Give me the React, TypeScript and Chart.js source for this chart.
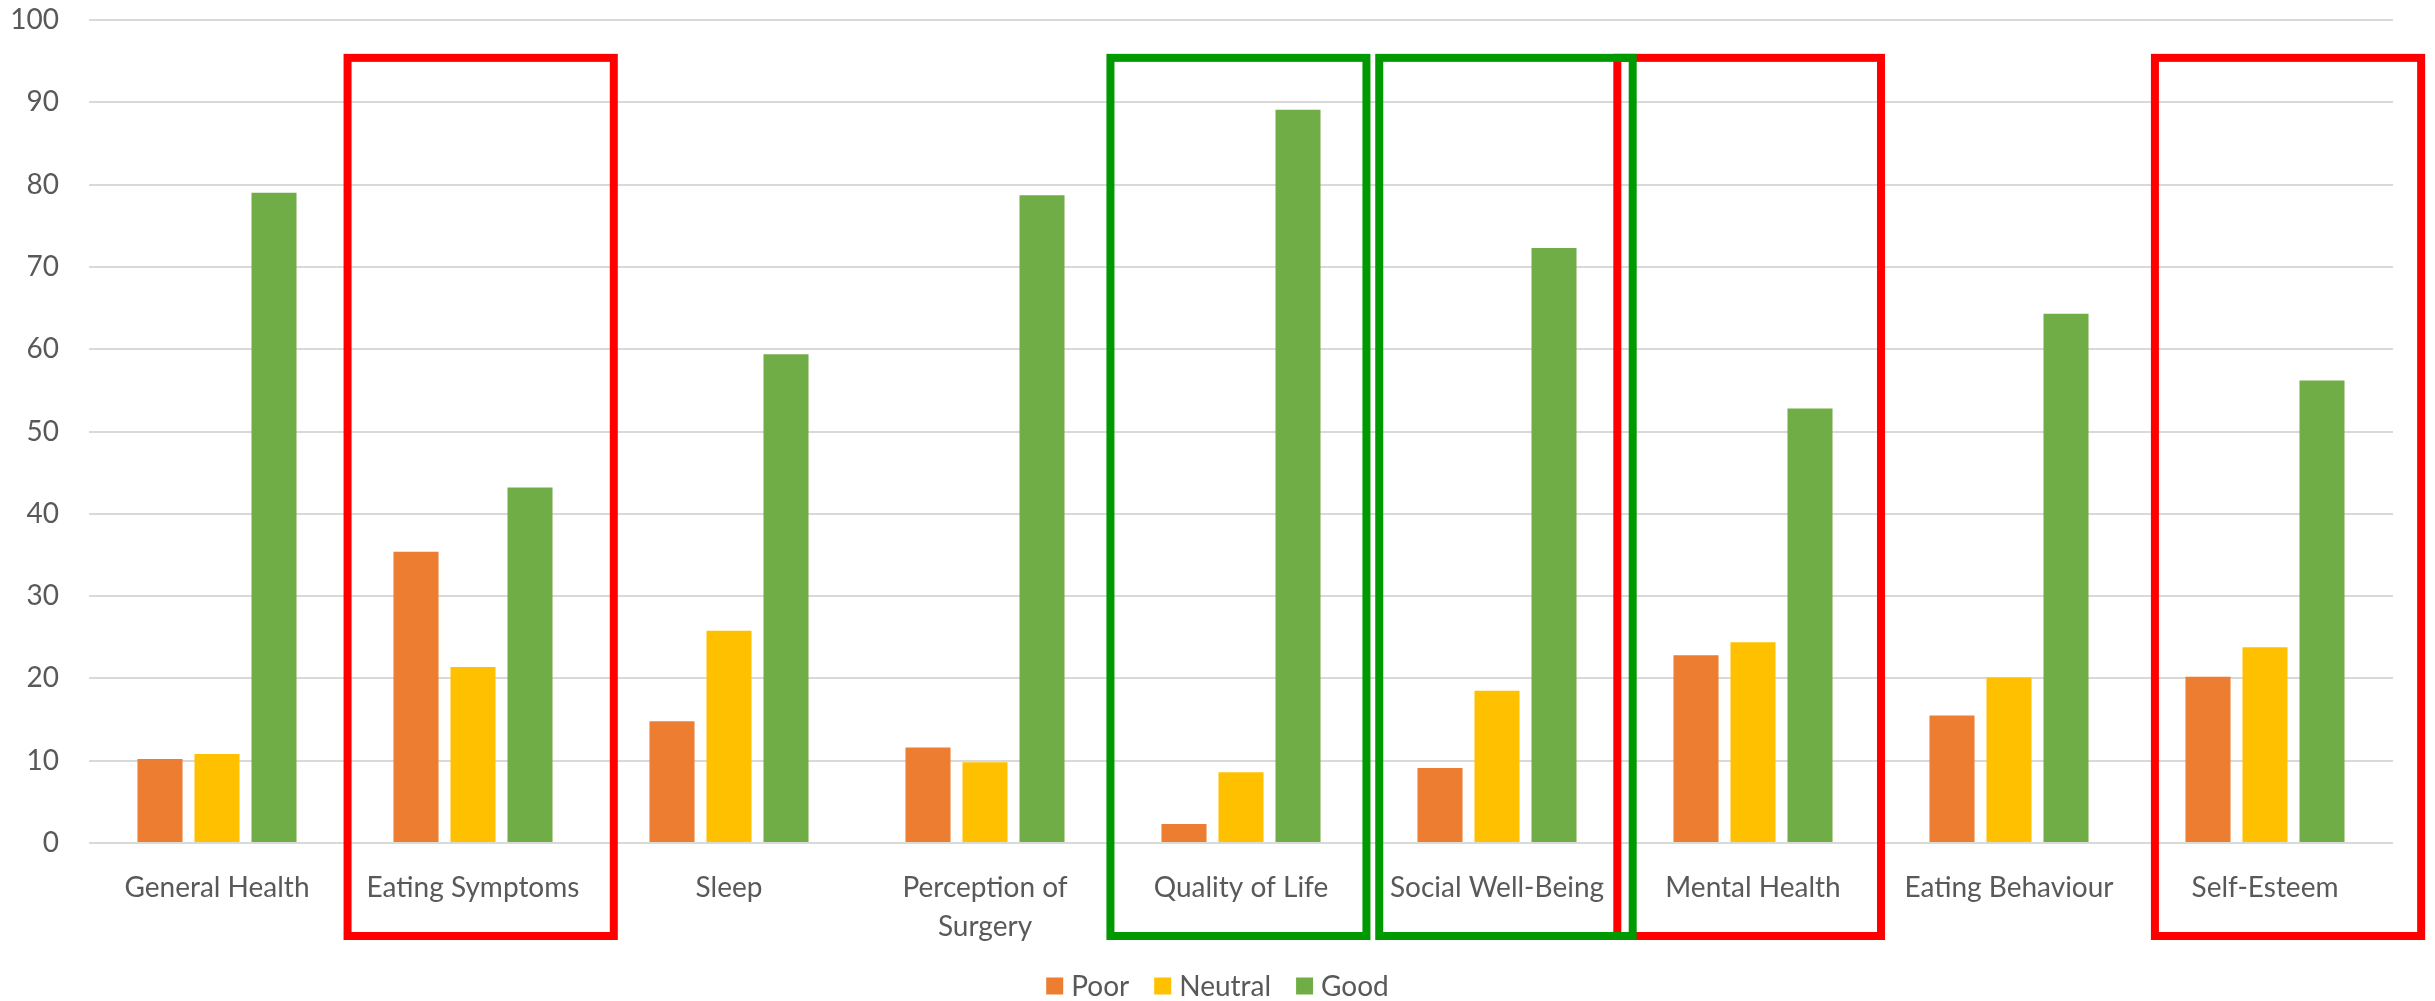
import React, { useEffect, useRef } from "react";
import { Chart, registerables } from "chart.js";

Chart.register(...registerables);

// ---------- data ----------
const categories: (string | string[])[] = [
  "General Health",
  "Eating Symptoms",
  "Sleep",
  ["Perception of", "Surgery"],
  "Quality of Life",
  "Social Well-Being",
  "Mental Health",
  "Eating Behaviour",
  "Self-Esteem",
];
const seriesNames = ["Poor", "Neutral", "Good"];
const poorValues = [10.2, 35.4, 14.8, 11.6, 2.3, 9.1, 22.8, 15.5, 20.2];
const neutralValues = [10.8, 21.4, 25.8, 9.8, 8.6, 18.5, 24.4, 20.1, 23.8];
const goodValues = [79.0, 43.2, 59.4, 78.7, 89.1, 72.3, 52.8, 64.3, 56.2];
const yMin = 0;
const yMax = 100;
const yStep = 10;

// highlighted categories (index into categories)
const redBoxedIdx = [1, 6, 8];
const greenBoxedIdx = [4, 5];

// ---------- styles ----------
const COLORS = ["#ED7D31", "#FFC000", "#70AD47"];
const TEXT = "#595959";
const GRID = "#D9D9D9";
const FONT = "Lato, 'Liberation Sans', sans-serif";
const FS = 28;
// box edge offsets (fraction of category width, from category centre)
const boxEdges: Record<number, [number, number]> = {
  1: [-0.49, 0.55],
  4: [-0.51, 0.49],
  5: [-0.46, 0.53],
  6: [-0.53, 0.5],
  8: [-0.43, 0.61],
};
const BOX_TOP_VALUE = 95.4;
const BOX_BOTTOM_BELOW_AXIS = 93;

const overlayPlugin = {
  id: "overlay",
  afterDraw(chart: any) {
    const { ctx, scales, chartArea } = chart;
    const x = scales.x;
    const y = scales.y;
    const catW = (chartArea.right - chartArea.left) / categories.length;
    const top = y.getPixelForValue(BOX_TOP_VALUE);
    const bottom = chartArea.bottom + BOX_BOTTOM_BELOW_AXIS;
    const drawBox = (idx: number, color: string) => {
      const c = x.getPixelForValue(idx);
      const [l, r] = boxEdges[idx];
      ctx.save();
      ctx.strokeStyle = color;
      ctx.lineWidth = 8;
      ctx.lineJoin = "miter";
      ctx.strokeRect(c + l * catW, top, (r - l) * catW, bottom - top);
      ctx.restore();
    };
    redBoxedIdx.forEach((i) => drawBox(i, "#FF0000"));
    greenBoxedIdx.forEach((i) => drawBox(i, "#009900"));

    // legend
    ctx.save();
    ctx.font = `${FS}px ${FONT}`;
    ctx.textBaseline = "middle";
    const box = 17;
    const gapBoxText = 8;
    const gapItems = 25;
    const widths = seriesNames.map((n) => box + gapBoxText + ctx.measureText(n).width);
    const total = widths.reduce((a, b) => a + b, 0) + gapItems * (seriesNames.length - 1);
    let cx = chart.width / 2 - total / 2;
    const cy = 986;
    seriesNames.forEach((n, i) => {
      ctx.fillStyle = COLORS[i];
      ctx.fillRect(cx, cy - box / 2, box, box);
      ctx.fillStyle = TEXT;
      ctx.textAlign = "left";
      ctx.fillText(n, cx + box + gapBoxText, cy + 1);
      cx += widths[i] + gapItems;
    });
    ctx.restore();
  },
};

export default function App() {
  const ref = useRef<HTMLCanvasElement | null>(null);
  useEffect(() => {
    if (!ref.current) return;
    const values = [poorValues, neutralValues, goodValues];
    const chart = new Chart(ref.current, {
      type: "bar",
      data: {
        labels: categories,
        datasets: seriesNames.map((name, i) => ({
          label: name,
          data: values[i],
          backgroundColor: COLORS[i],
          borderWidth: 0,
          categoryPercentage: 0.668,
          barPercentage: 0.79,
        })),
      },
      options: {
        animation: false,
        responsive: true,
        maintainAspectRatio: false,
        devicePixelRatio: 1,
        layout: { padding: { top: 20, right: 42, bottom: 40, left: 0 } },
        plugins: {
          legend: { display: false },
          tooltip: { enabled: false },
        },
        scales: {
          x: {
            grid: { display: false },
            border: { display: false },
            ticks: {
              color: TEXT,
              font: { family: FONT, size: FS, lineHeight: 1.4 },
              padding: 17,
              maxRotation: 0,
              autoSkip: false,
            },
            afterFit: (s: any) => {
              s.height = 118;
              s.paddingLeft = 0;
              s.paddingRight = 0;
            },
          },
          y: {
            min: yMin,
            max: yMax,
            grid: { color: GRID, lineWidth: 2, drawTicks: false },
            border: { display: false },
            ticks: {
              stepSize: yStep,
              color: TEXT,
              font: { family: FONT, size: FS },
              padding: 30,
            },
            afterFit: (s: any) => {
              s.width = 89;
              s.paddingTop = 0;
              s.paddingBottom = 0;
            },
          },
        },
      },
      plugins: [overlayPlugin],
    });
    return () => chart.destroy();
  }, []);
  return (
    <div style={{ position: "absolute", left: 0, top: 0, width: 2435, height: 1001, background: "#fff" }}>
      <canvas ref={ref} />
    </div>
  );
}
